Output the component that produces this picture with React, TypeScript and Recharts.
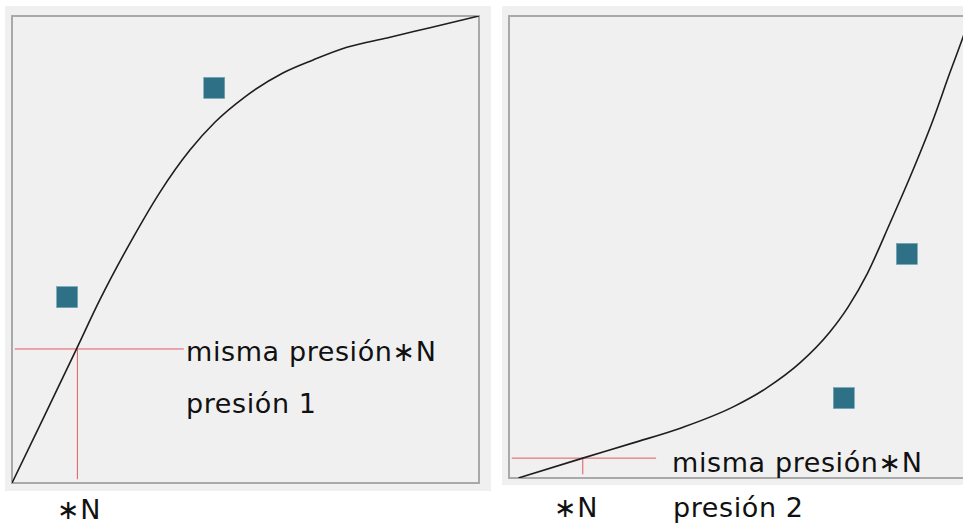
import React from "react";
import {
  ComposedChart,
  Line,
  Scatter,
  XAxis,
  YAxis,
  ReferenceArea,
  ReferenceLine,
} from "recharts";

// curve of the first panel (presión 1)
const curve1X = [0, 7, 13.9, 18.8, 25.9, 31.7, 38.1, 43.5, 49.9, 58, 64.5, 71.7, 80.3, 89.5, 100];
const curve1Y = [0, 14.5, 28.9, 39.2, 52.5, 62.3, 71.3, 77.3, 82.7, 87.8, 90.6, 93.3, 95.3, 97.5, 100];
const points1X = [11.8, 43.3];
const points1Y = [39.8, 84.6];
const guide1 = { x: 14, y: 28.7, xEnd: 36.8 };

// curve of the second panel (presión 2)
const curve2X = [2, 15.8, 26.6, 37.3, 48, 55.2, 62.3, 68.7, 72.6, 76.7, 81.6, 85.9, 90.8, 94.4, 97, 98.7];
const curve2Y = [0, 4.3, 7.6, 11, 15.4, 19.5, 24.9, 31.6, 37, 44.2, 55.2, 65.2, 77.5, 87.7, 94.8, 99.6];
const points2X = [85.2, 71.7];
const points2Y = [48.5, 17.3];
const guide2 = { x: 15.8, y: 4.3, xEnd: 31.5 };

const BG = "#f0f0f0";
const BORDER = "#a9a9a9";
const CURVE = "#1e1e1e";
const MARK = "#2e7187";
const GUIDE = "#e05a64";
const FONT = "'DejaVu Sans', sans-serif";

const zip = (xs: number[], ys: number[]) => xs.map((x, i) => ({ x, y: ys[i] }));

const Square = (props: any) => {
  const { cx, cy } = props;
  return <rect x={cx - 10.5} y={cy - 10.5} width={21} height={21} fill={MARK} stroke="#6fa3b4" strokeWidth={0.6} />;
};

function Panel({
  curve,
  points,
  guide,
  height,
  margin,
}: {
  curve: { x: number; y: number }[];
  points: { x: number; y: number }[];
  guide: { x: number; y: number; xEnd: number };
  height: number;
  margin: { top: number; right: number; bottom: number; left: number };
}) {
  return (
    <ComposedChart width={486} height={height} margin={margin} style={{ background: BG }}>
      <XAxis type="number" dataKey="x" domain={[0, 100]} hide allowDataOverflow />
      <YAxis type="number" dataKey="y" domain={[0, 100]} hide allowDataOverflow />
      <ReferenceArea x1={0} x2={100} y1={0} y2={100} fill="none" stroke={BORDER} strokeWidth={2} ifOverflow="visible" />
      <ReferenceLine
        segment={[{ x: 0.6, y: guide.y }, { x: guide.xEnd, y: guide.y }]}
        stroke={GUIDE}
        strokeWidth={1}
        ifOverflow="visible"
      />
      <ReferenceLine
        segment={[{ x: guide.x, y: guide.y }, { x: guide.x, y: 0.8 }]}
        stroke={GUIDE}
        strokeWidth={1}
        ifOverflow="visible"
      />
      <Line
        data={curve}
        dataKey="y"
        type="monotone"
        stroke={CURVE}
        strokeWidth={1.6}
        dot={false}
        isAnimationActive={false}
      />
      <Scatter data={points} dataKey="y" shape={<Square />} isAnimationActive={false} />
    </ComposedChart>
  );
}

export default function App() {
  const txt = { fontFamily: FONT, fontSize: 27, fill: "#111", letterSpacing: 0.6 } as const;
  return (
    <div style={{ position: "absolute", left: 0, top: 0, width: 963, height: 526, overflow: "hidden", background: "#fff" }}>
      <div style={{ position: "absolute", left: 5, top: 6 }}>
        <Panel
          curve={zip(curve1X, curve1Y)}
          points={zip(points1X, points1Y)}
          guide={guide1}
          height={485}
          margin={{ top: 10, right: 12, bottom: 8, left: 7 }}
        />
      </div>
      <div style={{ position: "absolute", left: 502, top: 6 }}>
        <Panel
          curve={zip(curve2X, curve2Y)}
          points={zip(points2X, points2Y)}
          guide={guide2}
          height={479}
          margin={{ top: 10, right: 12, bottom: 7, left: 7 }}
        />
      </div>
      <svg width={963} height={526} style={{ position: "absolute", left: 0, top: 0, pointerEvents: "none" }}>
        <text x={186} y={361} {...txt}>misma presión∗N</text>
        <text x={186} y={413} {...txt}>presión 1</text>
        <text x={57} y={519} {...txt}>∗N</text>
        <text x={672} y={472} {...txt}>misma presión∗N</text>
        <text x={554} y={517} {...txt}>∗N</text>
        <text x={673} y={517} {...txt}>presión 2</text>
      </svg>
    </div>
  );
}
